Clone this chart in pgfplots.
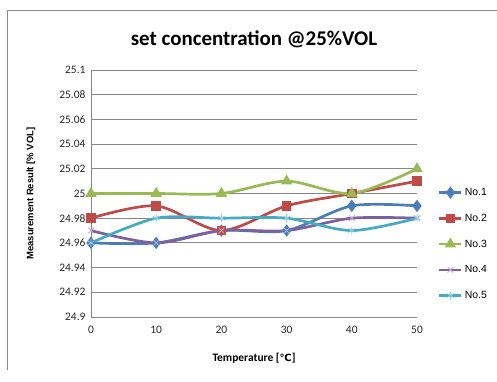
\documentclass[border=0pt]{standalone}
\usepackage{pgfplots}
\pgfplotsset{compat=1.18}
\usepackage{fontspec}
\setmainfont{Carlito}
\newfontfamily\arialfont{Liberation Sans}
\newfontfamily\dejavu{DejaVu Sans}
\definecolor{c1}{HTML}{4A7EBB}
\definecolor{c2}{HTML}{BE4B48}
\definecolor{c3}{HTML}{98B954}
\definecolor{c4}{HTML}{7D60A0}
\definecolor{c5}{HTML}{46AAC5}
\definecolor{gridc}{HTML}{868686}
\begin{document}
\begin{tikzpicture}
\useasboundingbox (0,0) rectangle (497bp,382bp);
\draw[gridc, line width=0.8bp] (7bp,12bp) -- (7bp,372bp) -- (497bp,372bp);
\begin{axis}[
  at={(91bp,65bp)}, anchor=south west,
  scale only axis, width=326bp, height=247bp,
  xmin=0, xmax=50, ymin=24.9, ymax=25.1,
  xtick={0,10,20,30,40,50},
  ytick={24.9,24.92,24.94,24.96,24.98,25,25.02,25.04,25.06,25.08,25.1},
  scaled y ticks=false,
  /pgf/number format/fixed,
  /pgf/number format/precision=2,
  /pgf/number format/assume math mode=true,
  ticklabel style={font=\fontsize{11.5}{13}\selectfont, text=black!85},
  xticklabel style={yshift=-6bp},
  yticklabel style={xshift=-2bp},
  axis x line=bottom, axis y line=left,
  axis line style={-, draw=gridc, line width=0.8bp},
  major tick length=0pt,
  ymajorgrids, grid style={gridc, line width=0.8bp},
  title={set concentration @25\%VOL},
  title style={at={(axis description cs:0.5,1.101)}, anchor=center, font=\fontsize{21}{24}\selectfont\bfseries},
  xlabel={Temperature [{\dejavu\fontsize{10}{11}\selectfont ℃}]},
  xlabel style={at={(axis description cs:0.5,-0.166)}, anchor=center, font=\fontsize{11.5}{13}\selectfont\bfseries},
  ylabel={Measurement Result [\% VOL]},
  ylabel style={at={(axis description cs:-0.184,0.5)}, anchor=center, font=\arialfont\fontsize{9.5}{11}\selectfont\bfseries},
  every axis plot/.append style={line width=2.7bp, smooth, tension=0.5},
  legend style={at={(axis description cs:1.064,0.53)}, anchor=north west, draw=none, fill=none,
    row sep=13bp, font=\arialfont\fontsize{10.5}{12}\selectfont, inner sep=0pt},
  legend cell align=left,
  legend image code/.code={\draw[mark repeat=2,mark phase=2,#1] plot coordinates {(0bp,0bp) (11bp,0bp) (22bp,0bp)};},
]
\addplot[c1, mark=diamond*, mark size=4bp, mark options={solid, fill=c1}] coordinates {(0,24.96) (10,24.96) (20,24.97) (30,24.97) (40,24.99) (50,24.99)};
\addlegendentry{No.1}
\addplot[c2, mark=square*, mark size=3.5bp, mark options={solid, fill=c2}] coordinates {(0,24.98) (10,24.99) (20,24.97) (30,24.99) (40,25.00) (50,25.01)};
\addlegendentry{No.2}
\addplot[c3, mark=triangle*, mark size=4bp, mark options={solid, fill=c3}] coordinates {(0,25.00) (10,25.00) (20,25.00) (30,25.01) (40,25.00) (50,25.02)};
\addlegendentry{No.3}
\addplot[c4, mark=x, mark size=4bp, mark options={solid, line width=0.8bp, draw=c4!50}] coordinates {(0,24.97) (10,24.96) (20,24.97) (30,24.97) (40,24.98) (50,24.98)};
\addlegendentry{No.4}
\addplot[c5, mark=asterisk, mark size=4bp, mark options={solid, line width=0.8bp, draw=c5!60}] coordinates {(0,24.96) (10,24.98) (20,24.98) (30,24.98) (40,24.97) (50,24.98)};
\addlegendentry{No.5}
\end{axis}
\end{tikzpicture}
\end{document}
